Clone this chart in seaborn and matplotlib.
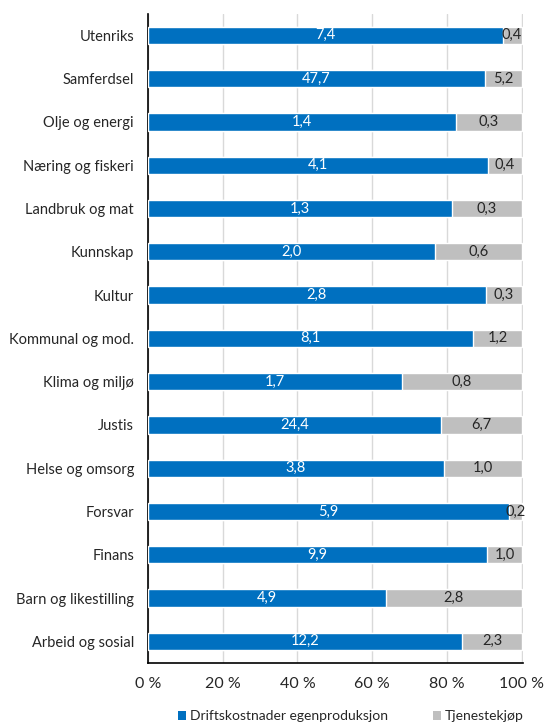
import matplotlib
matplotlib.use("Agg")
import matplotlib.pyplot as plt
import seaborn as sns
import pandas as pd
from matplotlib.patches import Patch

categories = ["Utenriks", "Samferdsel", "Olje og energi", "Næring og fiskeri",
              "Landbruk og mat", "Kunnskap", "Kultur", "Kommunal og mod.",
              "Klima og miljø", "Justis", "Helse og omsorg", "Forsvar", "Finans",
              "Barn og likestilling", "Arbeid og sosial"]
drift = [7.4, 47.7, 1.4, 4.1, 1.3, 2.0, 2.8, 8.1, 1.7, 24.4, 3.8, 5.9, 9.9, 4.9, 12.2]
tjeneste = [0.4, 5.2, 0.3, 0.4, 0.3, 0.6, 0.3, 1.2, 0.8, 6.7, 1.0, 0.2, 1.0, 2.8, 2.3]
series_names = ["Driftskostnader egenproduksjon", "Tjenestekjøp"]
xticks = [0, 20, 40, 60, 80, 100]

BLUE = "#0070C0"
GRAY = "#BFBFBF"

df = pd.DataFrame({"cat": categories, "drift": drift, "tjeneste": tjeneste})
df["total"] = df["drift"] + df["tjeneste"]
df["drift_pct"] = df["drift"] / df["total"] * 100
df["full"] = 100.0

sns.set_style("white")
plt.rcParams["font.family"] = ["Lato", "DejaVu Sans"]

fig = plt.figure(figsize=(5.48, 7.22), dpi=100)
ax = fig.add_axes([0.27, 0.0817, 0.684, 0.8993])

sns.barplot(data=df, x="full", y="cat", color=GRAY, width=0.4, ax=ax,
            saturation=1, order=categories, zorder=2)
sns.barplot(data=df, x="drift_pct", y="cat", color=BLUE, width=0.4, ax=ax,
            saturation=1, order=categories, zorder=3)

for i, row in df.iterrows():
    ax.text(row["drift_pct"] / 2, i, f"{row['drift']:.1f}".replace(".", ","),
            ha="center", va="center", color="white", fontsize=10.5, zorder=5)
    ax.text((row["drift_pct"] + 100) / 2, i, f"{row['tjeneste']:.1f}".replace(".", ","),
            ha="center", va="center", color="#262626", fontsize=10.5, zorder=5)

ax.set_xlim(0, 100.3)
ax.set_ylim(14.5, -0.5)
ax.set_xticks(xticks)
ax.set_xticklabels([f"{t} %" for t in xticks], fontsize=11.5)
ax.tick_params(axis="y", labelsize=10.5, length=0, pad=10)
ax.tick_params(axis="x", length=0, pad=10)
ax.set_xlabel("")
ax.set_ylabel("")
ax.xaxis.grid(True, color="#D9D9D9", linewidth=1, zorder=0)
ax.set_axisbelow(True)
for s in ["top", "right"]:
    ax.spines[s].set_visible(False)
for s in ["left", "bottom"]:
    ax.spines[s].set_visible(True)
    ax.spines[s].set_color("black")
    ax.spines[s].set_linewidth(1.2)

handles = [Patch(facecolor=BLUE, edgecolor="none"), Patch(facecolor=GRAY, edgecolor="none")]
fig.legend(handles, series_names, loc="center", bbox_to_anchor=(0.64, 0.008),
           ncol=2, frameon=False, fontsize=10, handlelength=0.6, handleheight=0.6,
           handletextpad=0.3, columnspacing=3.2)

fig.savefig("out.png", dpi=100)
